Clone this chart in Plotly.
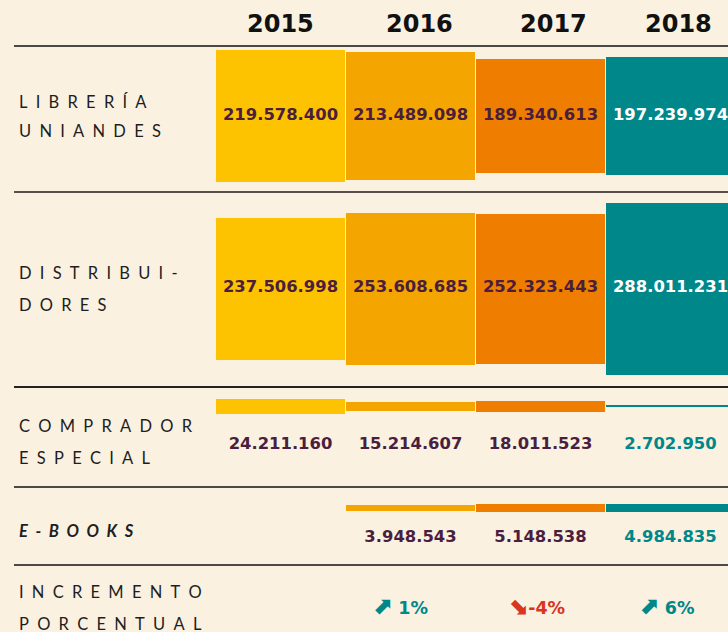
import plotly.graph_objects as go

# ---------------- data ----------------
YEARS = ["2015", "2016", "2017", "2018"]
LIBRERIA = [219578400, 213489098, 189340613, 197239974]
DISTRIBUIDORES = [237506998, 253608685, 252323443, 288011231]
COMPRADOR = [24211160, 15214607, 18011523, 2702950]
EBOOKS = [None, 3948543, 5148538, 4984835]
INCREMENTO = [None, 1, -4, 6]
ROW_LABELS = [["LIBRERÍA", "UNIANDES"], ["DISTRIBUI-", "DORES"],
              ["COMPRADOR", "ESPECIAL"], ["E-BOOKS"], ["INCREMENTO", "PORCENTUAL"]]

# ---------------- style / layout ----------------
W, H = 728, 632
BG = "#FAF1E1"
COLORS = ["#FDC300", "#F5A500", "#EF7D00", "#00878A"]
PURPLE = "#4B1E3E"
TEAL = "#00878A"
RED = "#D9351F"
COL0_PX, COL_W = 280.5, 130.0
PX_PER_M = 0.597          # bar height scale (px per million)
PX_PER_M_EBOOK = 1.6      # e-books row uses its own scale

NUM_FONT = "DejaVu Sans"
LBL_FONT = "Lato"


def fmt(v):
    return f"{v:,}".replace(",", ".")


def spaced(s):
    return "\u2002".join(list(s))


fig = go.Figure()

rows = [
    # values, bar center px, text y px, scale, 2018 text colour
    (LIBRERIA, 116, 116, PX_PER_M, "white"),
    (DISTRIBUIDORES, 289, 288, PX_PER_M, "white"),
    (COMPRADOR, 406.5, 445, PX_PER_M, TEAL),
    (EBOOKS, 508, 538, PX_PER_M_EBOOK, TEAL),
]

for vals, cy, ty, scale, last_col in rows:
    xs, hs, bases, cols, txt, tcol = [], [], [], [], [], []
    for i, v in enumerate(vals):
        if v is None:
            continue
        h = v / 1e6 * scale
        xs.append(i)
        hs.append(h)
        bases.append(cy - h / 2)
        cols.append(COLORS[i])
        txt.append(f"<b>{fmt(v)}</b>")
        tcol.append(last_col if i == 3 else PURPLE)
    fig.add_trace(go.Bar(x=xs, y=hs, base=bases, width=0.992,
                         marker=dict(color=cols, line=dict(width=0)),
                         hoverinfo="skip", showlegend=False))
    fig.add_trace(go.Scatter(x=xs, y=[ty] * len(xs), mode="text", text=txt,
                             textposition="middle center",
                             textfont=dict(family=NUM_FONT, size=16.4, color=tcol),
                             hoverinfo="skip", showlegend=False))

# percent increment row
px_, pt, pc = [], [], []
for i, v in enumerate(INCREMENTO):
    if v is None:
        continue
    arrow = "⬈" if v >= 0 else "⬊"
    px_.append(i - 0.08 if i == 1 else i - 0.03)
    pt.append(f"<b><span style='font-size:24px'>{arrow}</span>"
              f"{'' if v < 0 else ' '}{v}%</b>")
    pc.append(TEAL if v >= 0 else RED)
fig.add_trace(go.Scatter(x=px_, y=[610] * len(px_), mode="text", text=pt,
                         textposition="middle center",
                         textfont=dict(family=NUM_FONT, size=17.5, color=pc),
                         hoverinfo="skip", showlegend=False))

# year header
HEADER_X_PX = [280.5, 419, 553, 678]
for yr, xp in zip(YEARS, HEADER_X_PX):
    fig.add_annotation(x=(xp - COL0_PX) / COL_W, y=24, xref="x", yref="y",
                       text=f"<b>{yr}</b>", showarrow=False,
                       font=dict(family=NUM_FONT, size=24, color="#111111"))

# row labels
LABEL_Y = [[102, 131], [273, 305], [426, 458], [531], [592, 624]]
for r, (lines, ys) in enumerate(zip(ROW_LABELS, LABEL_Y)):
    for line, yy in zip(lines, ys):
        t = spaced(line)
        if r == 3:
            t = f"<b><i>{t}</i></b>"
        fig.add_annotation(x=17 / W, y=yy, xref="paper", yref="y",
                           xanchor="left", yanchor="middle", text=t,
                           showarrow=False,
                           font=dict(family=LBL_FONT, size=16.5, color="#1E1E1E"))

# separator lines
SEP = [(46, "#111111", 1.5), (192, "#57504A", 2), (387, "#222222", 1.8),
       (487, "#111111", 1.5), (565, "#111111", 1.5)]
for yy, c, wdt in SEP:
    fig.add_shape(type="line", xref="paper", yref="y", x0=14 / W, x1=1,
                  y0=yy, y1=yy, line=dict(color=c, width=wdt), layer="above")

fig.update_layout(
    width=W, height=H, margin=dict(l=0, r=0, t=0, b=0),
    paper_bgcolor=BG, plot_bgcolor=BG, barmode="overlay", bargap=0,
    xaxis=dict(range=[-COL0_PX / COL_W, (W - COL0_PX) / COL_W], visible=False,
               fixedrange=True),
    yaxis=dict(range=[H, 0], visible=False, fixedrange=True),
)

fig.write_html(
    "out.html",
    config={"displayModeBar": False},
    post_script="document.body.style.margin='0';document.body.style.padding='0';"
                "document.body.style.overflow='hidden';",
)
